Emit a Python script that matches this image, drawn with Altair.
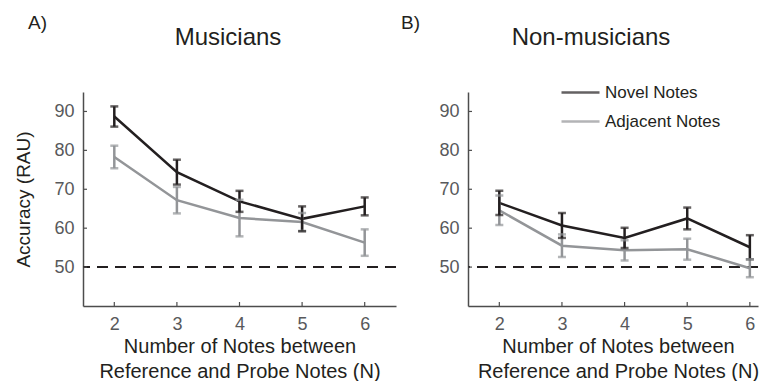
import altair as alt
import pandas as pd

x_vals = [2, 3, 4, 5, 6]
series_names = ["Novel Notes", "Adjacent Notes"]
series_colors = ["#231f20", "#939598"]

mus_novel = [88.7, 74.4, 66.9, 62.4, 65.6]
mus_novel_err = [2.6, 3.2, 2.7, 3.2, 2.3]
mus_adj = [78.3, 67.2, 62.6, 61.6, 56.3]
mus_adj_err = [2.9, 3.4, 4.7, 2.3, 3.4]

non_novel = [66.5, 60.7, 57.5, 62.5, 55.1]
non_novel_err = [3.1, 3.2, 2.6, 2.8, 3.1]
non_adj = [64.6, 55.5, 54.3, 54.6, 49.7]
non_adj_err = [3.8, 2.9, 2.6, 2.7, 2.3]

y_ticks = [50, 60, 70, 80, 90]
chance = [50]

FONT = "Liberation Sans, Arial, sans-serif"
DARK = "#231f20"


def make_df(novel, novel_err, adj, adj_err):
    rows = []
    for name, vals, errs in [(series_names[1], adj, adj_err), (series_names[0], novel, novel_err)]:
        for x, v, e in zip(x_vals, vals, errs):
            rows.append({"N": x, "series": name, "acc": v, "lo": v - e, "hi": v + e})
    return pd.DataFrame(rows)


cscale = alt.Scale(domain=series_names, range=series_colors)
legend_def = alt.Legend(
    title=None, orient="none", legendX=477, legendY=-20,
    symbolType="stroke", symbolSize=1444, symbolStrokeWidth=2.5,
    labelFont=FONT, labelFontSize=17, labelColor=DARK, labelOffset=4,
    rowPadding=-10,
)

H = 214


def panel(df, title_text, letter, x_max, width, show_y_title, title_x, letter_x, x_title_x=None):
    yscale = alt.Scale(domain=[40, 95], nice=False, zero=False)
    xscale = alt.Scale(domain=[1.5, x_max], nice=False, zero=False)
    yaxis = alt.Axis(values=y_ticks, format="d", ticks=False, tickSize=0, grid=False,
                     labelPadding=9,
                     title="Accuracy (RAU)" if show_y_title else "",
                     titleFont=FONT, titleFontSize=19, titleFontWeight="normal",
                     titleColor=DARK, titlePadding=20)
    xkw = {}
    if x_title_x is not None:
        xkw["titleX"] = x_title_x
    xaxis = alt.Axis(values=x_vals, format="d", ticks=False, tickSize=0, grid=False,
                     labelPadding=9,
                     title=["Number of Notes between", "Reference and Probe Notes (N)"],
                     titleFont=FONT, titleFontSize=20, titleFontWeight="normal",
                     titleColor=DARK, titlePadding=3, titleLineHeight=25, **xkw)
    X = alt.X("N:Q", scale=xscale, axis=xaxis)
    base = alt.Chart(df)

    dashed = alt.Chart(pd.DataFrame({"y": chance})).mark_rule(
        strokeDash=[11, 7], strokeWidth=2, color=DARK
    ).encode(y=alt.Y("y:Q", scale=yscale, axis=yaxis))

    ytk = alt.Chart(pd.DataFrame({"t": y_ticks})).mark_rule(color="#4d4d4d", strokeWidth=1.2).encode(
        y=alt.Y("t:Q", scale=yscale, axis=yaxis), x=alt.value(0), x2=alt.value(4))
    xtk = alt.Chart(pd.DataFrame({"t": x_vals})).mark_rule(color="#4d4d4d", strokeWidth=1.2).encode(
        x=alt.X("t:Q", scale=xscale, axis=xaxis), y=alt.value(H), y2=alt.value(H - 4))

    color = alt.Color("series:N", scale=cscale, legend=legend_def)
    lines = base.mark_line(strokeWidth=2.5).encode(
        x=X, y=alt.Y("acc:Q", scale=yscale, axis=yaxis), color=color, detail="series:N")
    bars = base.mark_rule(strokeWidth=2.5).encode(
        x=X, y=alt.Y("lo:Q", scale=yscale, axis=yaxis), y2="hi:Q", color=color)
    caps_lo = base.mark_tick(thickness=2.5, size=8, orient="horizontal").encode(
        x=X, y=alt.Y("lo:Q", scale=yscale, axis=yaxis), color=color)
    caps_hi = base.mark_tick(thickness=2.5, size=8, orient="horizontal").encode(
        x=X, y=alt.Y("hi:Q", scale=yscale, axis=yaxis), color=color)

    lab = alt.Chart(pd.DataFrame({"t": [letter]})).mark_text(
        align="left", baseline="top", font=FONT, fontSize=19, color=DARK
    ).encode(text="t:N", x=alt.value(letter_x), y=alt.value(-78))

    ttl = alt.Chart(pd.DataFrame({"t": [title_text]})).mark_text(
        align="center", baseline="alphabetic", font=FONT, fontSize=24, color=DARK
    ).encode(text="t:N", x=alt.value(title_x), y=alt.value(-47))

    return alt.layer(dashed, ytk, xtk, lines, bars, caps_lo, caps_hi, lab, ttl).properties(
        width=width, height=H,
    )


left = panel(make_df(mus_novel, mus_novel_err, mus_adj, mus_adj_err),
             "Musicians", "A)", 6.5, 313, True, 145, -55)
right = panel(make_df(non_novel, non_novel_err, non_adj, non_adj_err),
              "Non-musicians", "B)", 6.13, 290, False, 123, -67, 150)

chart = alt.hconcat(left, right, spacing=4).properties(
    padding={"left": 6, "top": 6, "right": 0, "bottom": 0}
).configure_view(strokeWidth=0).configure_axis(
    domainColor="#4d4d4d", domainWidth=1.5,
    labelFont=FONT, labelFontSize=18, labelColor="#58595b",
)

chart.save("out.html", embed_options={"renderer": "svg", "actions": False})
